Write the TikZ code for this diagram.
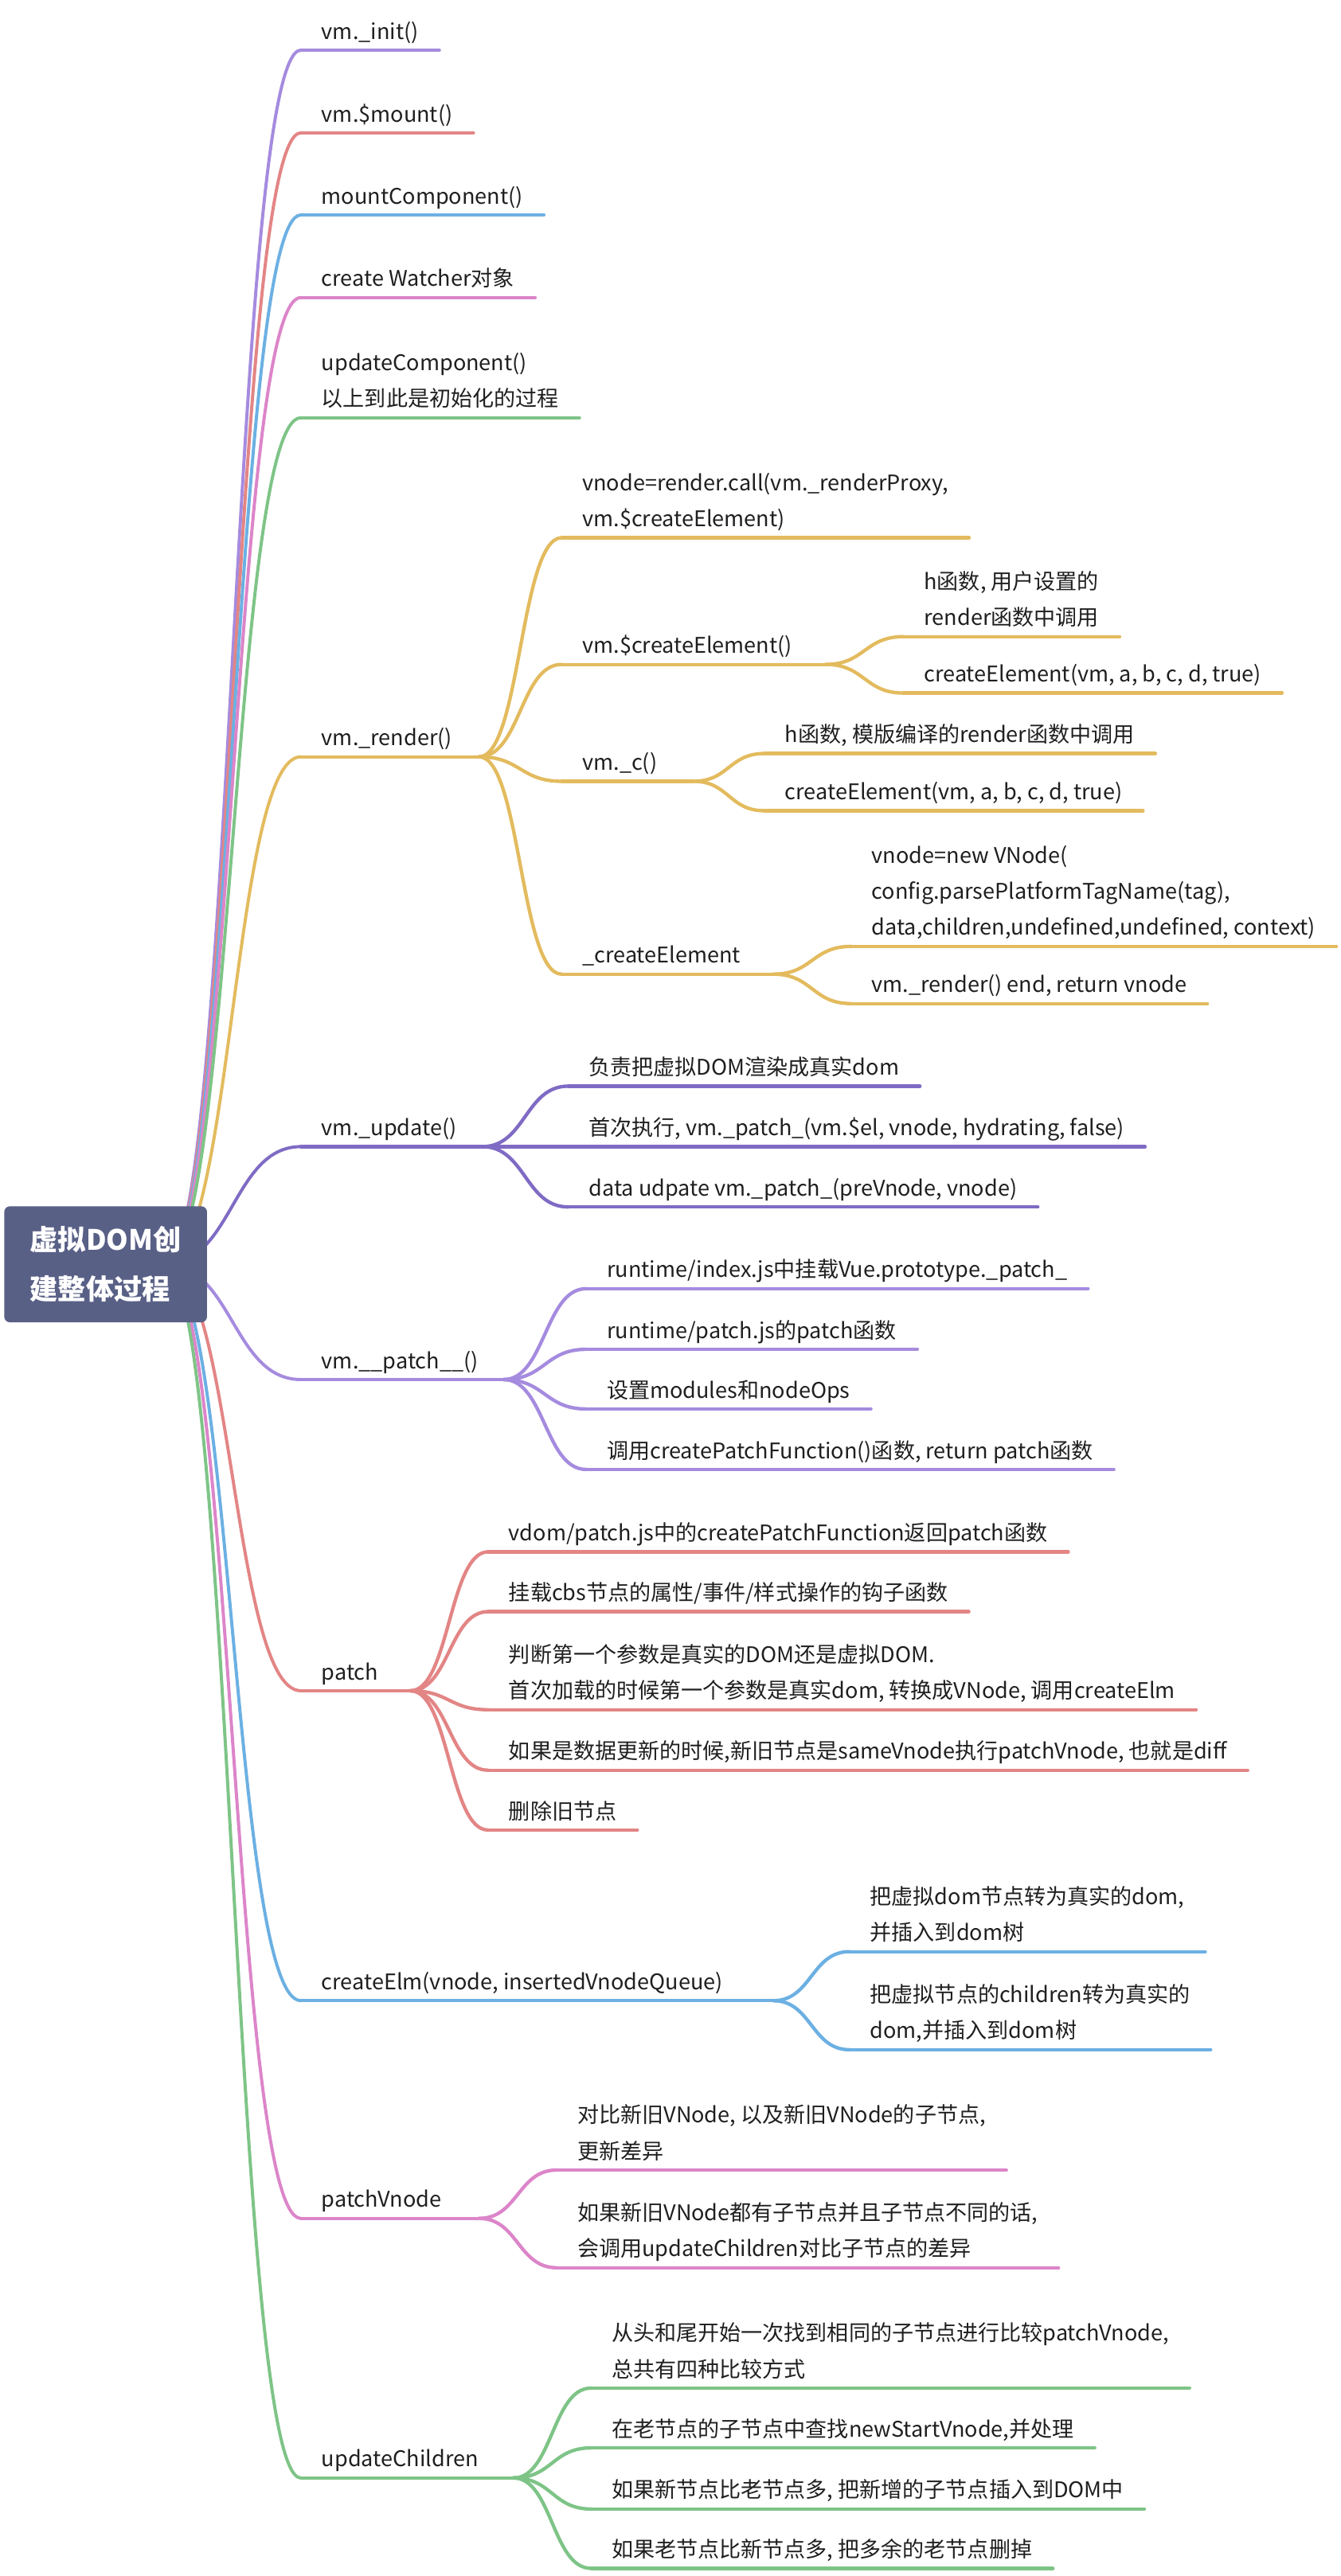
\documentclass[tikz,border=0pt]{standalone}
\usepackage{fontspec}
\setmainfont{Noto Sans CJK SC}
\usetikzlibrary{calc, positioning, backgrounds}

\definecolor{rootblue}{RGB}{89,96,134}
\definecolor{brpurple}{RGB}{165,139,223}
\definecolor{brred}{RGB}{227,133,133}
\definecolor{brblue}{RGB}{108,176,227}
\definecolor{brpink}{RGB}{220,133,201}
\definecolor{brgreen}{RGB}{126,196,135}
\definecolor{brgold}{RGB}{227,187,94}
\definecolor{brviolet}{RGB}{127,107,196}

\tikzset{
  root/.style={fill=rootblue, text=white, rounded corners=4pt, align=left,
    minimum width=4.96cm, minimum height=2.84cm,
    font=\fontsize{19.5}{34.6}\selectfont\bfseries},
  topic/.style={anchor=south west, inner xsep=0.5cm, inner ysep=5pt,
    text depth=0.25em, align=left, text=black!88, font=\fontsize{15}{25}\selectfont},
  uline/.style={draw=#1, line width=2.4pt, line cap=round},
  toplink/.style={uline=#1, line width=2.2pt},
}

% S-shaped connector: style, from, to
\newcommand{\bend}[3]{%
  \draw[#1] let \p1=(#2), \p2=(#3) in
    (\p1) .. controls ({0.5*\x1+0.5*\x2},\y1) and ({0.5*\x1+0.5*\x2},\y2) .. (\p2);}

\begin{document}
\begin{tikzpicture}[x=0.04cm, y=-0.04cm]
\useasboundingbox (0,0) rectangle (820,1576);

% root
\node[root] (root) at (64.6,773.5) {虚拟DOM创\\建整体过程};
\coordinate (hub) at ([xshift=-1.05cm]root.east);

% first level
\node[topic] (init) at (184,30.7) {vm.\_init()};
\node[topic] (mount) at (184,81.3) {vm.\$mount()};
\node[topic] (mountcomp) at (184,131.5) {mountComponent()};
\node[topic] (watcher) at (184,182) {create Watcher对象};
\node[topic] (updatecomp) at (184,255.6) {updateComponent()\\以上到此是初始化的过程};
\node[topic] (render) at (184,463) {vm.\_render()};
\node[topic] (update) at (184,701.5) {vm.\_update()};
\node[topic] (patchfn) at (184,844) {vm.\_\_patch\_\_()};
\node[topic] (patch) at (184,1034.4) {patch};
\node[topic] (createelm) at (184,1224) {createElm(vnode, insertedVnodeQueue)};
\node[topic] (patchvnode) at (184,1357.2) {patchVnode};
\node[topic] (updatechildren) at (184,1516) {updateChildren};

% junctions
\coordinate (render-j) at (293,463);
\coordinate (update-j) at (295,701.5);
\coordinate (patchfn-j) at (308,844);
\coordinate (patch-j) at (251,1034.4);
\coordinate (createelm-j) at (473,1224);
\coordinate (patchvnode-j) at (293,1357.2);
\coordinate (updatechildren-j) at (314,1516);
\coordinate (r2-j) at (505,406.5);
\coordinate (r3-j) at (424,478);
\coordinate (r4-j) at (473,596);

% vm._render()
\node[topic] (r1) at (343.5,329) {vnode=render.call(vm.\_renderProxy,\\vm.\$createElement)};
\node[topic] (r2) at (343.5,406.5) {vm.\$createElement()};
\node[topic] (r3) at (343.5,478) {vm.\_c()};
\node[topic] (r4) at (343.5,596) {\_createElement};
\node[topic] (r2a) at (552.5,389.5) {h函数, 用户设置的\\render函数中调用};
\node[topic] (r2b) at (552.5,424) {createElement(vm, a, b, c, d, true)};
\node[topic] (r3a) at (467.5,461) {h函数, 模版编译的render函数中调用};
\node[topic] (r3b) at (467.5,496) {createElement(vm, a, b, c, d, true)};
\node[topic] (r4a) at (520.5,579) {vnode=new VNode(\\config.parsePlatformTagName(tag),\\data,children,undefined,undefined, context)};
\node[topic] (r4b) at (520.5,614) {vm.\_render() end, return vnode};

% vm._update()
\node[topic] (u1) at (347.5,664.5) {负责把虚拟DOM渲染成真实dom};
\node[topic] (u2) at (347.5,701.5) {首次执行, vm.\_patch\_(vm.\$el, vnode, hydrating, false)};
\node[topic] (u3) at (347.5,738.4) {data udpate vm.\_patch\_(preVnode, vnode)};

% vm.__patch__()
\node[topic] (p1) at (358.5,788.4) {runtime/index.js中挂载Vue.prototype.\_patch\_};
\node[topic] (p2) at (358.5,825.5) {runtime/patch.js的patch函数};
\node[topic] (p3) at (358.5,862) {设置modules和nodeOps};
\node[topic] (p4) at (358.5,899) {调用createPatchFunction()函数, return patch函数};

% patch
\node[topic] (q1) at (298.5,949.4) {vdom/patch.js中的createPatchFunction返回patch函数};
\node[topic] (q2) at (298.5,986) {挂载cbs节点的属性/事件/样式操作的钩子函数};
\node[topic] (q3) at (298.5,1046) {判断第一个参数是真实的DOM还是虚拟DOM.\\首次加载的时候第一个参数是真实dom, 转换成VNode, 调用createElm};
\node[topic] (q4) at (298.5,1083) {如果是数据更新的时候,新旧节点是sameVnode执行patchVnode, 也就是diff};
\node[topic] (q5) at (298.5,1119.6) {删除旧节点};

% createElm
\node[topic] (c1) at (519.5,1194) {把虚拟dom节点转为真实的dom,\\并插入到dom树};
\node[topic] (c2) at (519.5,1254) {把虚拟节点的children转为真实的\\dom,并插入到dom树};

% patchVnode
\node[topic] (v1) at (340.5,1327.6) {对比新旧VNode, 以及新旧VNode的子节点,\\更新差异};
\node[topic] (v2) at (340.5,1387.4) {如果新旧VNode都有子节点并且子节点不同的话,\\会调用updateChildren对比子节点的差异};

% updateChildren
\node[topic] (w1) at (361.5,1461) {从头和尾开始一次找到相同的子节点进行比较patchVnode,\\总共有四种比较方式};
\node[topic] (w2) at (361.5,1497.6) {在老节点的子节点中查找newStartVnode,并处理};
\node[topic] (w3) at (361.5,1535) {如果新节点比老节点多, 把新增的子节点插入到DOM中};
\node[topic] (w4) at (361.5,1571.3) {如果老节点比新节点多, 把多余的老节点删掉};

% branches from the root, behind the box
\begin{pgfonlayer}{background}
\foreach \nd/\col in {init/brpurple, mount/brred, mountcomp/brblue, watcher/brpink,
    updatecomp/brgreen, render/brgold, update/brviolet, patchfn/brpurple,
    patch/brred, createelm/brblue, patchvnode/brpink, updatechildren/brgreen}
  {\bend{toplink=\col}{hub}{\nd.south west}}
\end{pgfonlayer}

% underlines of leaves
\foreach \nd/\col in {init/brpurple, mount/brred, mountcomp/brblue, watcher/brpink,
    updatecomp/brgreen, r1/brgold, r2a/brgold, r2b/brgold, r3a/brgold, r3b/brgold,
    r4a/brgold, r4b/brgold, u1/brviolet, u2/brviolet, u3/brviolet,
    p1/brpurple, p2/brpurple, p3/brpurple, p4/brpurple,
    q1/brred, q2/brred, q3/brred, q4/brred, q5/brred, c1/brblue, c2/brblue,
    v1/brpink, v2/brpink, w1/brgreen, w2/brgreen, w3/brgreen, w4/brgreen}
  \draw[uline=\col] (\nd.south west) -- (\nd.south east);

% underlines of parents, up to the junction
\foreach \nd/\col in {render/brgold, update/brviolet, patchfn/brpurple, patch/brred,
    createelm/brblue, patchvnode/brpink, updatechildren/brgreen,
    r2/brgold, r3/brgold, r4/brgold}
  \draw[uline=\col] (\nd.south west) -- (\nd-j);

% junction to children
\foreach \up/\col/\kids in {render/brgold/{r1,r2,r3,r4}, r2/brgold/{r2a,r2b},
    r3/brgold/{r3a,r3b}, r4/brgold/{r4a,r4b}, update/brviolet/{u1,u2,u3},
    patchfn/brpurple/{p1,p2,p3,p4}, patch/brred/{q1,q2,q3,q4,q5},
    createelm/brblue/{c1,c2}, patchvnode/brpink/{v1,v2},
    updatechildren/brgreen/{w1,w2,w3,w4}}
  {\foreach \k in \kids
    {\bend{uline=\col}{\up-j}{\k.south west}}}

\end{tikzpicture}
\end{document}
